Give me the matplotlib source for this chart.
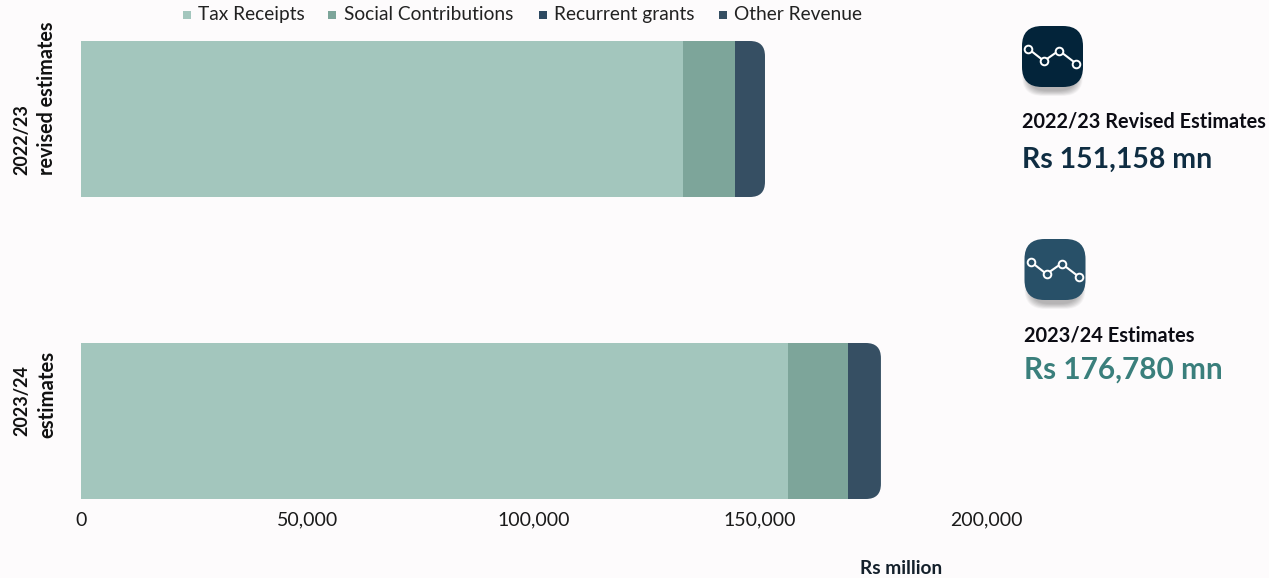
import matplotlib
matplotlib.use("Agg")
import matplotlib.pyplot as plt
import numpy as np
from matplotlib.patches import FancyBboxPatch
from matplotlib.lines import Line2D
from matplotlib.path import Path
from matplotlib.transforms import IdentityTransform

plt.rcParams['font.family'] = ['Lato', 'DejaVu Sans']

W, H = 1269, 578
BG = '#FDFBFC'

periods = ['2022/23\nrevised estimates', '2023/24\nestimates']
series_names = ['Tax Receipts', 'Social Contributions', 'Recurrent grants', 'Other Revenue']
tax_receipts = [132930, 156240]
social_contributions = [11490, 13260]
recurrent_grants = [40, 30]
other_revenue = [6698, 7250]
series_colors = ['#A3C6BD', '#7DA59A', '#2E4A62', '#364F63']
x_ticks = [0, 50000, 100000, 150000, 200000]

fig = plt.figure(figsize=(W / 100, H / 100), dpi=100, facecolor=BG)


def px_axes(left, top, right, bottom):
    return fig.add_axes([left / W, 1 - bottom / H, (right - left) / W, (bottom - top) / H])


ax = px_axes(81, 41, 986, 499)
ax.set_facecolor('none')
ax.set_xlim(0, 200000)
bar_height = 156 / 302  # bars 156 px tall, 302 px apart
ax.set_ylim(1 + 0.5 * bar_height, 0 - 0.5 * bar_height)

stack = [tax_receipts, social_contributions, recurrent_grants, other_revenue]
totals = np.sum(stack, axis=0)
left = np.zeros(len(periods))
containers = []
for values, color, name in zip(stack, series_colors, series_names):
    containers.append(ax.barh(range(len(periods)), values, left=left, height=bar_height,
                              color=color, label=name, linewidth=0))
    left = left + np.array(values)


def rounded_end_path(total, ypos, radius_px=15):
    """Bar outline with the right-hand corners rounded, in display coordinates."""
    (x0, y0), (x1, y1) = ax.transData.transform([(0, ypos + bar_height / 2),
                                                 (total, ypos - bar_height / 2)])
    r = radius_px
    verts = [(x0, y0), (x1 - r, y0), (x1, y0), (x1, y0 + r), (x1, y1 - r), (x1, y1),
             (x1 - r, y1), (x0, y1), (x0, y0)]
    codes = [Path.MOVETO, Path.LINETO, Path.CURVE3, Path.CURVE3, Path.LINETO,
             Path.CURVE3, Path.CURVE3, Path.LINETO, Path.CLOSEPOLY]
    return Path(verts, codes)


for container in containers:
    for i, rect in enumerate(container):
        rect.set_clip_path(rounded_end_path(totals[i], i), IdentityTransform())

for spine in ax.spines.values():
    spine.set_visible(False)
ax.set_yticks([])
ax.set_xticks(x_ticks)
ax.set_xticklabels([f'{t:,}' for t in x_ticks], fontsize=14, color='#1a1a1a')
ax.tick_params(axis='x', length=0, pad=9)

# Overlay in pixel coordinates for the annotation panel and labels
ov = fig.add_axes([0, 0, 1, 1])
ov.set_xlim(0, W)
ov.set_ylim(H, 0)
ov.axis('off')
ov.patch.set_alpha(0)

ov.text(901, 568, 'Rs million', fontsize=13.8, fontweight='bold', color='#14202b',
        ha='center', va='center')

ov.text(22, 140, '2022/23', rotation=90, fontsize=13, fontweight='bold', color='#111111',
        ha='center', va='center')
ov.text(47, 98, 'revised estimates', rotation=90, fontsize=14.2, fontweight='bold',
        color='#111111', ha='center', va='center')
ov.text(22, 401, '2023/24', rotation=90, fontsize=13, fontweight='bold', color='#111111',
        ha='center', va='center')
ov.text(47, 394, 'estimates', rotation=90, fontsize=14.6, fontweight='bold', color='#111111',
        ha='center', va='center')

# Legend entries along the top edge, sharing one text baseline
legend_x = [187, 332, 543, 723]
for x, name, color in zip(legend_x, series_names, series_colors):
    ov.add_line(Line2D([x], [14.5], marker='s', markersize=6, color=color, linestyle='none',
                       markeredgewidth=0))
    ov.text(x + 11.5, 20, name, fontsize=13.8, color='#222222', ha='left', va='baseline')

# Small line-chart glyph shown above each total
glyph_x = [6, 22, 37, 54]
glyph_y = [22.5, 35, 24.5, 37.5]


def icon(x, y, size, color):
    # Soft drop shadow built from stacked translucent rounded boxes
    for grow in np.linspace(0, 10, 11):
        ov.add_patch(FancyBboxPatch((x + 5 - grow / 2, y + 6 - grow / 2), size - 10 + grow, size - 2 + grow,
                                    boxstyle='round,pad=0,rounding_size=20', fc='#000000',
                                    ec='none', alpha=0.028))
    ov.add_patch(FancyBboxPatch((x, y), size, size, boxstyle='round,pad=0,rounding_size=20',
                                fc=color, ec='none'))
    ov.plot([x + v for v in glyph_x], [y + v for v in glyph_y], color='white', lw=1.5,
            marker='o', markersize=5.5, markerfacecolor=color, markeredgecolor='white',
            markeredgewidth=1.4)


icon(1022, 26, 61, '#03243A')
icon(1024.5, 239, 61, '#285068')

ov.text(1022, 121, '2022/23 Revised Estimates', fontsize=14.3, fontweight='bold',
        color='#0c0c14', ha='left', va='center')
ov.text(1022, 160, 'Rs 151,158 mn', fontsize=20.5, fontweight='bold', color='#0F2D42',
        ha='left', va='center')
ov.text(1024.5, 335, '2023/24 Estimates', fontsize=14.4, fontweight='bold', color='#0c0c14',
        ha='left', va='center')
ov.text(1024.5, 369.5, 'Rs 176,780 mn', fontsize=21.4, fontweight='bold', color='#3A7F7C',
        ha='left', va='center')

fig.savefig('out.png', dpi=100, facecolor=BG)
